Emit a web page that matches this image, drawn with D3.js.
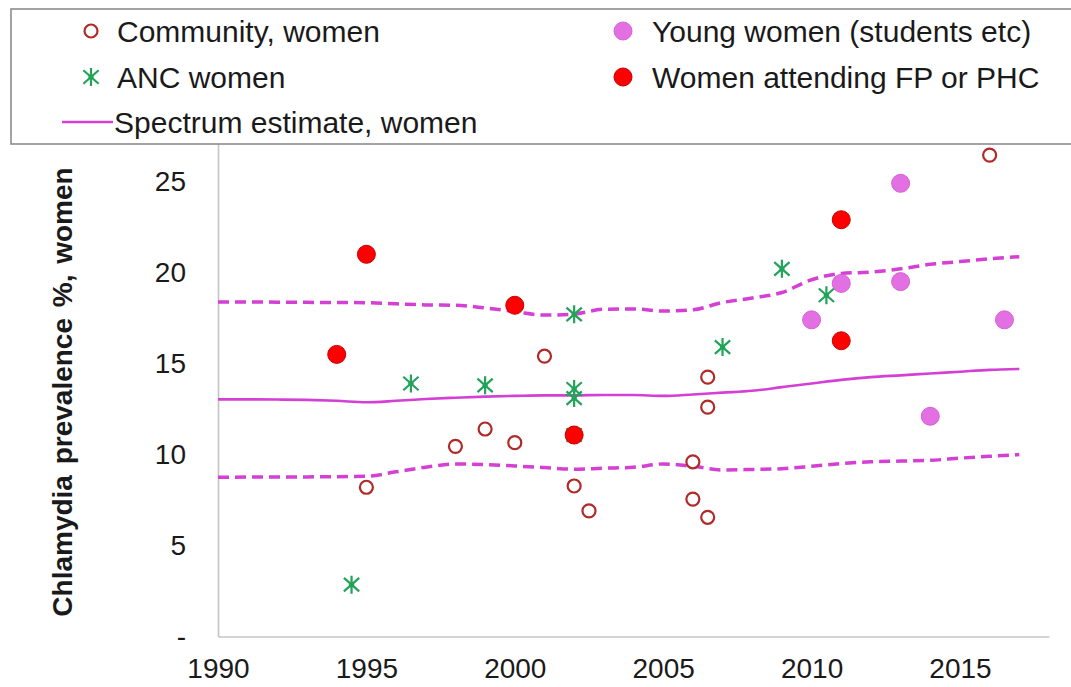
<!DOCTYPE html>
<html>
<head>
<meta charset="utf-8">
<script src="https://cdn.jsdelivr.net/npm/d3@7"></script>
<style>
  html, body { margin: 0; padding: 0; background: #fff; }
  svg { display: block; }
  text { font-family: "Liberation Sans", Arial, sans-serif; fill: #1a1a1a; }
</style>
</head>
<body>
<svg id="chart" width="1071" height="687"></svg>
<script>
// Survey points: [year, prevalence %]
const communityWomen = [
  [1995, 8.2], [1998, 10.45], [1999, 11.4], [2000, 10.65], [2001, 15.4],
  [2002, 8.27], [2002.5, 6.9], [2006, 9.6], [2006, 7.55], [2006.5, 14.25],
  [2006.5, 12.6], [2006.5, 6.55], [2016, 26.45]
];
const ancWomen = [
  [1994.5, 2.85], [1996.5, 13.9], [1999, 13.8], [2002, 17.7], [2002, 13.6],
  [2002, 13.1], [2002, 11.07], [2007, 15.9], [2009, 20.2], [2010.5, 18.75]
];
const youngWomen = [
  [2010, 17.4], [2011, 19.4], [2013, 24.9], [2013, 19.5], [2014, 12.1], [2016.5, 17.4]
];
const fpPhcWomen = [
  [1994, 15.5], [1995, 21.0], [2000, 18.2], [2002, 11.07], [2011, 22.9], [2011, 16.25]
];

// Spectrum model estimate, one value per year 1990-2017
const spectrumYears = d3.range(1990, 2018);
const spectrumMid = [
  13.03, 13.03, 13.02, 13.0, 12.95, 12.87, 12.95, 13.05, 13.12, 13.18,
  13.22, 13.25, 13.25, 13.27, 13.27, 13.22, 13.3, 13.4, 13.5, 13.7,
  13.9, 14.1, 14.25, 14.35, 14.45, 14.55, 14.65, 14.7
];
const spectrumUpper = [
  18.38, 18.38, 18.37, 18.36, 18.35, 18.34, 18.28, 18.22, 18.2, 18.05,
  17.85, 17.66, 17.72, 17.98, 18.0, 17.88, 17.95, 18.35, 18.6, 18.9,
  19.6, 19.95, 20.02, 20.2, 20.45, 20.6, 20.75, 20.87
];
const spectrumLower = [
  8.75, 8.76, 8.77, 8.77, 8.78, 8.8, 9.05, 9.3, 9.48, 9.45,
  9.37, 9.28, 9.19, 9.25, 9.3, 9.48, 9.35, 9.15, 9.18, 9.22,
  9.35, 9.5, 9.6, 9.64, 9.68, 9.8, 9.9, 10.0
];

const xTicks = [1990, 1995, 2000, 2005, 2010, 2015];
const yTicks = [0, 5, 10, 15, 20, 25];

const svg = d3.select("#chart");

const x = d3.scaleLinear().domain([1990, 2018]).range([218, 1049]);
const y = d3.scaleLinear().domain([0, 30]).range([636.5, 90.5]);

const AXIS_GREY = "#c4c4c4";
const LINE_PINK = "#d43fd4";
const DOT_PINK = "#e370e3";

// Axes
const yAxis = svg.append("g")
  .attr("transform", `translate(${x.range()[0]},0)`)
  .call(d3.axisLeft(y).tickValues(yTicks).tickSize(0).tickPadding(32)
    .tickFormat(d => d === 0 ? "-" : d3.format("d")(d)));
const xAxis = svg.append("g")
  .attr("transform", `translate(0,${y.range()[0]})`)
  .call(d3.axisBottom(x).tickValues(xTicks).tickSize(0).tickPadding(22)
    .tickFormat(d3.format("d")));
[yAxis, xAxis].forEach(g => {
  g.select(".domain").attr("stroke", AXIS_GREY).attr("stroke-width", 1.6);
  g.selectAll("text").style("font-size", "28px").attr("fill", "#1a1a1a");
});
xAxis.selectAll("text").attr("dy", "0.71em");

// Axis title
svg.append("text")
  .attr("transform", "translate(72,392) rotate(-90)")
  .attr("text-anchor", "middle")
  .style("font-size", "28px")
  .style("font-weight", "bold")
  .style("word-spacing", "3px")
  .text("Chlamydia prevalence %, women");

// Spectrum estimate and its bounds
const line = d3.line()
  .x((d, i) => x(spectrumYears[i]))
  .y(d => y(d))
  .curve(d3.curveMonotoneX);

svg.append("path").datum(spectrumUpper)
  .attr("d", line).attr("fill", "none")
  .attr("stroke", LINE_PINK).attr("stroke-width", 3.5)
  .attr("stroke-dasharray", "11,6");
svg.append("path").datum(spectrumLower)
  .attr("d", line).attr("fill", "none")
  .attr("stroke", LINE_PINK).attr("stroke-width", 3.5)
  .attr("stroke-dasharray", "11,6");
svg.append("path").datum(spectrumMid)
  .attr("d", line).attr("fill", "none")
  .attr("stroke", LINE_PINK).attr("stroke-width", 2.6);

// Asterisk-style star marker: vertical bar plus two diagonals
const starSymbol = {
  draw(ctx, size) {
    const r = Math.sqrt(size) / 2;
    ctx.moveTo(0, -r); ctx.lineTo(0, r);
    const dx = r * 0.85, dy = r * 0.75;
    ctx.moveTo(-dx, -dy); ctx.lineTo(dx, dy);
    ctx.moveTo(-dx, dy); ctx.lineTo(dx, -dy);
    ctx.moveTo(-r * 0.3, 0); ctx.lineTo(r * 0.3, 0);
  }
};

function drawOpen(g, data, cx, cy) {
  g.selectAll(null).data(data).join("circle")
    .attr("cx", d => cx(d)).attr("cy", d => cy(d)).attr("r", 6.5)
    .attr("fill", "#fff").attr("stroke", "#b02a2a").attr("stroke-width", 2.2);
}
function drawStar(g, data, cx, cy) {
  g.selectAll(null).data(data).join("path")
    .attr("transform", d => `translate(${cx(d)},${cy(d)})`)
    .attr("d", d3.symbol().type(starSymbol).size(324))
    .attr("fill", "none").attr("stroke", "#22a35a").attr("stroke-width", 2.2);
}
function drawDot(g, data, cx, cy, fill, stroke, r) {
  g.selectAll(null).data(data).join("circle")
    .attr("cx", d => cx(d)).attr("cy", d => cy(d)).attr("r", r)
    .attr("fill", fill).attr("stroke", stroke).attr("stroke-width", 1);
}

const px = d => x(d[0]), py = d => y(d[1]);
const marks = svg.append("g");
drawOpen(marks.append("g"), communityWomen, px, py);
drawStar(marks.append("g"), ancWomen, px, py);
drawDot(marks.append("g"), youngWomen, px, py, DOT_PINK, "#d760d7", 9);
drawDot(marks.append("g"), fpPhcWomen, px, py, "#ff0000", "#c80000", 9);

// Legend
const legend = svg.append("g");
legend.append("rect")
  .attr("x", 11).attr("y", 9).attr("width", 1080).attr("height", 135)
  .attr("fill", "#fff").attr("stroke", "#8c8c8c").attr("stroke-width", 1.6);

const legendItems = [
  { label: "Community, women", col: 0, row: 0, kind: "open" },
  { label: "Young women (students etc)", col: 1, row: 0, kind: "pink" },
  { label: "ANC women", col: 0, row: 1, kind: "star" },
  { label: "Women attending FP or PHC", col: 1, row: 1, kind: "red" },
  { label: "Spectrum estimate, women", col: 0, row: 2, kind: "line" }
];
const colMarker = [91, 623], colText = [117, 652];
const rowY = [31, 77, 122];
const lx = d => colMarker[d.col], ly = d => rowY[d.row];

drawOpen(legend.append("g"), legendItems.filter(d => d.kind === "open"), lx, ly);
drawStar(legend.append("g"), legendItems.filter(d => d.kind === "star"), lx, ly);
drawDot(legend.append("g"), legendItems.filter(d => d.kind === "pink"), lx, ly, DOT_PINK, "#d760d7", 9);
drawDot(legend.append("g"), legendItems.filter(d => d.kind === "red"), lx, ly, "#ff0000", "#c80000", 9);
legend.selectAll(null).data(legendItems.filter(d => d.kind === "line")).join("line")
  .attr("x1", 62).attr("x2", 113).attr("y1", ly).attr("y2", ly)
  .attr("stroke", LINE_PINK).attr("stroke-width", 2.6);

legend.selectAll(null).data(legendItems).join("text")
  .attr("x", d => d.kind === "line" ? 114 : colText[d.col])
  .attr("y", ly).attr("dy", "0.36em")
  .style("font-size", "30px")
  .text(d => d.label);
</script>
</body>
</html>
